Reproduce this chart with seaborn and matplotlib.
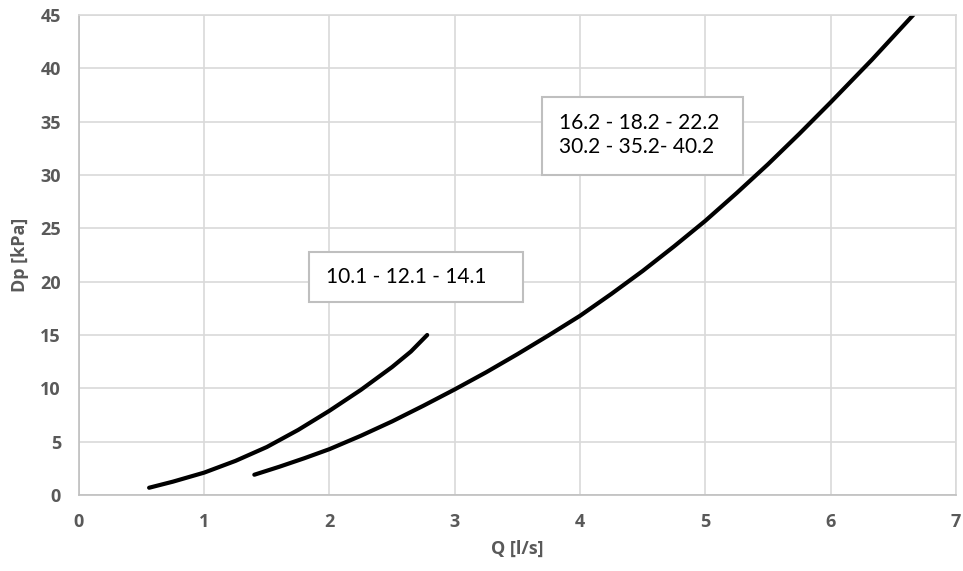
"""Pressure drop vs flow rate curves for two unit families."""
import os
import matplotlib
matplotlib.use("Agg")
import matplotlib.pyplot as plt
from matplotlib import font_manager
from matplotlib.patches import Rectangle
import seaborn as sns
import pandas as pd

OUTPUT_PATH = "out.png"

# curve for models 10.1 - 12.1 - 14.1
q_small = [0.56, 0.75, 1.0, 1.25, 1.5, 1.75, 2.0, 2.25, 2.5, 2.65, 2.78]
dp_small = [0.68, 1.25, 2.1, 3.2, 4.5, 6.1, 7.9, 9.85, 12.0, 13.45, 15.0]

# curve for models 16.2 ... 40.2
q_large = [1.4, 1.6, 1.8, 2.0, 2.25, 2.5, 2.75, 3.0, 3.25, 3.5, 3.75, 4.0,
           4.25, 4.5, 4.75, 5.0, 5.25, 5.5, 5.75, 6.0, 6.33, 6.66]
dp_large = [1.9, 2.65, 3.45, 4.3, 5.55, 6.9, 8.37, 9.9, 11.5, 13.2, 14.97, 16.8,
            18.85, 21.0, 23.3, 25.7, 28.3, 31.0, 33.85, 36.8, 40.8, 45.0]

label_small = "10.1 - 12.1 - 14.1"
label_large = "16.2 - 18.2 - 22.2\n30.2 - 35.2- 40.2"

x_ticks = [0, 1, 2, 3, 4, 5, 6, 7]
y_ticks = [0, 5, 10, 15, 20, 25, 30, 35, 40, 45]

GRID = "#d9d9d9"
AXIS_TEXT = "#595959"
BOX_EDGE = "#bfbfbf"


def bold_font_file():
    # look for an upright bold face file directly
    for fam in ["Open Sans", "Lato", "Noto Sans", "Roboto", "DejaVu Sans"]:
        for f in font_manager.fontManager.ttflist:
            base = os.path.basename(f.fname).lower()
            if (f.name == fam and "bold" in base and "italic" not in base
                    and "semi" not in base and "extra" not in base
                    and "oblique" not in base and "condensed" not in base):
                return f.fname
    return None


def build():
    sns.set_theme(style="whitegrid")
    plt.rcParams["font.family"] = ["Lato", "DejaVu Sans"]
    bfile = bold_font_file()

    def bprops(size):
        if bfile:
            return font_manager.FontProperties(fname=bfile, size=size)
        return font_manager.FontProperties(family="DejaVu Sans",
                                           weight="bold", size=size)

    df = pd.concat([
        pd.DataFrame({"Q": q_small, "Dp": dp_small, "grp": "small"}),
        pd.DataFrame({"Q": q_large, "Dp": dp_large, "grp": "large"}),
    ])

    fig = plt.figure(figsize=(9.63, 5.71), dpi=100)
    ax = fig.add_axes([0.082, 0.1331, 0.9105, 0.8406])

    for grp, sub in df.groupby("grp", sort=False):
        sns.lineplot(data=sub, x="Q", y="Dp", sort=False, color="black",
                     linewidth=3.0, solid_capstyle="round",
                     solid_joinstyle="round", ax=ax)

    ax.set_xlim(0, 7)
    ax.set_ylim(0, 45)
    ax.set_xticks(x_ticks)
    ax.set_xticklabels([str(t) for t in x_ticks], fontproperties=bprops(13))
    ax.set_yticks(y_ticks)
    ax.set_yticklabels([str(t) for t in y_ticks], fontproperties=bprops(13))
    ax.grid(True, color=GRID, linewidth=1.2)
    for side in ["top", "right"]:
        ax.spines[side].set_color(GRID)
        ax.spines[side].set_linewidth(1.2)
    for side in ["left", "bottom"]:
        ax.spines[side].set_color(BOX_EDGE)
        ax.spines[side].set_linewidth(1.2)

    ax.tick_params(axis="both", length=0, labelcolor=AXIS_TEXT)
    ax.tick_params(axis="x", pad=13)
    ax.tick_params(axis="y", pad=13)

    ax.set_xlabel("Q [l/s]", fontproperties=bprops(13), color=AXIS_TEXT,
                  labelpad=6)
    ax.set_ylabel("Dp [kPa]", fontproperties=bprops(13), color=AXIS_TEXT,
                  labelpad=8)

    # annotation boxes
    ax.add_patch(Rectangle((1.84, 18.1), 1.705, 4.65, facecolor="white",
                           edgecolor=BOX_EDGE, linewidth=1.5, zorder=3))
    ax.text(1.97, 20.45, label_small, fontsize=15, va="center", ha="left",
            color="black", zorder=4)
    ax.add_patch(Rectangle((3.70, 30.0), 1.60, 7.3, facecolor="white",
                           edgecolor=BOX_EDGE, linewidth=1.5, zorder=3))
    ax.text(3.83, 33.75, label_large, fontsize=15, va="center", ha="left",
            color="black", linespacing=1.3, zorder=4)

    plt.savefig(OUTPUT_PATH, dpi=100)
    plt.close()
    print(f"Saved: {OUTPUT_PATH}")


if __name__ == "__main__":
    build()
